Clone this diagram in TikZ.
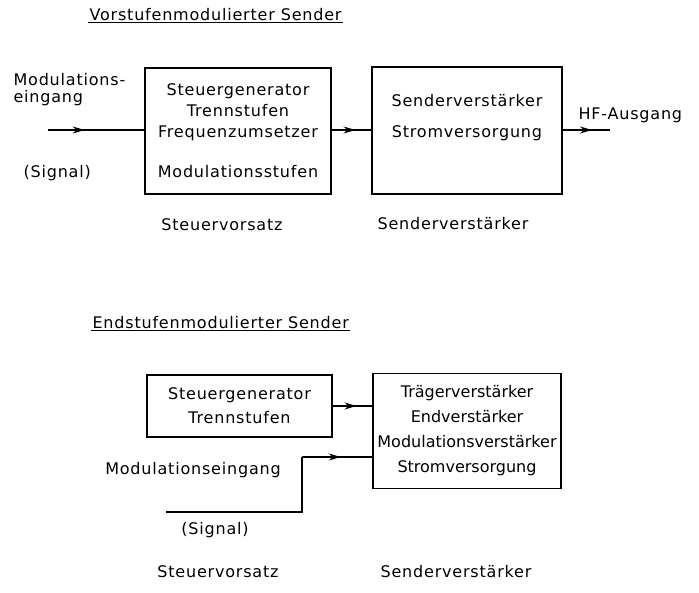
\documentclass[tikz,border=0pt]{standalone}
\usepackage{fontspec}
\setmainfont[LetterSpace=5]{DejaVu Sans}
\newfontfamily\engfont{DejaVu Sans}
\usetikzlibrary{arrows.meta,decorations.markings}

\begin{document}
\begin{tikzpicture}[x=1pt,y=-1pt,line width=1.2pt]
\tikzstyle{block}=[rectangle,draw,align=center,inner sep=1pt,font=\fontsize{16}{21}\selectfont]
\tikzstyle{txt}=[align=center,inner sep=1pt,font=\fontsize{16}{19}\selectfont]
\tikzset{midarrow/.style={postaction={decorate},decoration={markings,mark=at position #1 with {\arrow{Stealth[length=12pt,width=7pt]}}}}}
\useasboundingbox (0,0) rectangle (699,592);
\node[txt,anchor=west] (titel1) at (88,15) {Vorstufenmodulierter Sender};
\draw[line width=0.8pt] (titel1.south west) -- (titel1.south east);
\node[block,minimum width=186pt,minimum height=126pt] (steuer1) at (238,131) {Steuergenerator\\Trennstufen\\Frequenzumsetzer\\[19pt]Modulationsstufen};
\node[block,minimum width=190pt,minimum height=127pt] (sender1) at (467,130.5) {};
\node[txt,font=\fontsize{16}{31}\selectfont] (sender1text) at (467,117.5) {Senderverstärker\\Stromversorgung};
\coordinate (ein1) at (48,130);
\coordinate (aus1) at (610,130);
\draw[midarrow=0.38] (ein1) -- (ein1 -| steuer1.west);
\draw[midarrow=0.6] (steuer1.east |- ein1) -- (sender1.west |- ein1);
\draw[midarrow=0.62] (sender1.east |- aus1) -- (aus1);
\node[txt,align=left,anchor=west,font=\fontsize{16}{17}\selectfont] (modein1) at (12,90) {Modulations-\\eingang};
\node[txt,anchor=west] (signal1) at (22,173) {(Signal)};
\node[txt,anchor=west] (hf) at (577,115) {HF-Ausgang};
\node[txt] (vorsatz1) at (222,225) {Steuervorsatz};
\node[txt] (verst1) at (453,224) {Senderverstärker};
\node[txt,anchor=west] (titel2) at (91,323) {Endstufenmodulierter Sender};
\draw[line width=0.8pt] (titel2.south west) -- (titel2.south east);
\node[block,minimum width=185pt,minimum height=62pt,font=\fontsize{16}{24}\selectfont] (steuer2) at (239.5,406) {Steuergenerator\\Trennstufen};
\node[block,minimum width=188pt,minimum height=115pt,font=\engfont\fontsize{16}{25}\selectfont] (sender2) at (467,431) {Trägerverstärker\\Endverstärker\\Modulationsverstärker\\Stromversorgung};
\draw[midarrow=0.6] (steuer2) -- (sender2.west |- steuer2);
\coordinate (sig2) at (166,512);
\coordinate (knick) at (302,457);
\draw (sig2) -| (knick);
\draw[midarrow=0.55] (knick) -- (sender2.west |- knick);
\node[txt] (modein2) at (193,470) {Modulationseingang};
\node[txt] (signal2) at (215,530) {(Signal)};
\node[txt] (vorsatz2) at (218,572) {Steuervorsatz};
\node[txt] (verst2) at (456,572) {Senderverstärker};
\end{tikzpicture}
\end{document}
